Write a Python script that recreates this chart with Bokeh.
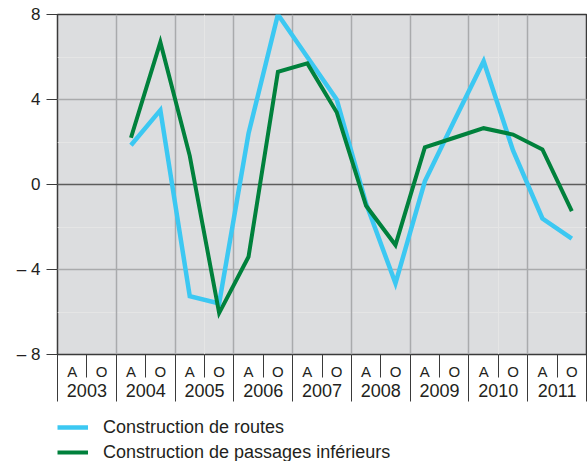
from bokeh.plotting import figure
from bokeh.layouts import column
from bokeh.models import (Range1d, LinearAxis, FixedTicker, Grid, Legend, LegendItem,
                          ColumnDataSource)
from bokeh.embed import file_html
from bokeh.resources import INLINE

# ---- data ----
years = [2003, 2004, 2005, 2006, 2007, 2008, 2009, 2010, 2011]
halves = ["A", "O"]
# series start at 2004 A and end at 2011 O
start_year = 2004
routes = [1.85, 3.5, -5.25, -5.6, 2.4, 8.0, 6.0, 4.0, -0.9, -4.65,
          0.15, 3.0, 5.8, 1.6, -1.6, -2.55]
passages = [2.2, 6.7, 1.35, -6.05, -3.4, 5.3, 5.7, 3.4, -1.0, -2.85,
            1.75, 2.2, 2.65, 2.35, 1.65, -1.25]
y_ticks = [-8, -4, 0, 4, 8]
y_labels = {-8: "\u2013 8", -4: "\u2013 4", 0: "0", 4: "4", 8: "8"}
series_names = ["Construction de routes", "Construction de passages inférieurs"]

# ---- derived positions (slot index per half-year) ----
n_slots = len(years) * len(halves)
offset = (start_year - years[0]) * len(halves)
x_vals = [offset + i + 0.5 for i in range(len(routes))]

FONT = "Liberation Sans"
TXT = "#231f20"
BLUE = "#3cc8f2"
GREEN = "#00813c"
W = 587

p = figure(width=W, height=405, x_range=Range1d(0, n_slots), y_range=Range1d(-8, 8),
           output_backend="svg", toolbar_location=None,
           x_axis_location=None, y_axis_location=None,
           min_border_left=57, min_border_right=1, min_border_top=14, min_border_bottom=51)
p.background_fill_color = "#dcdddf"
p.border_fill_color = "white"
p.outline_line_color = "#3a3a3a"
p.outline_line_width = 1.5

# grids
vgrid = Grid(dimension=0, ticker=FixedTicker(ticks=list(range(2, n_slots, 2))),
             grid_line_color="#a9aaac", grid_line_width=1.5)
hgrid = Grid(dimension=1, ticker=FixedTicker(ticks=[t for t in y_ticks if t != 0]),
             grid_line_color="#a9aaac", grid_line_width=1.5)
zgrid = Grid(dimension=1, ticker=FixedTicker(ticks=[0]),
             grid_line_color="#5c5c5c", grid_line_width=1.5)
p.add_layout(vgrid)
p.add_layout(hgrid)
p.add_layout(zgrid)

# y axis
yax = LinearAxis(ticker=FixedTicker(ticks=y_ticks), major_label_overrides=y_labels,
                 axis_line_color=None, major_tick_out=11, major_tick_in=0,
                 major_tick_line_color="#3a3a3a", major_tick_line_width=1,
                 minor_tick_line_color=None, major_label_standoff=6,
                 major_label_text_font=FONT, major_label_text_font_size="17px",
                 major_label_text_color=TXT)
p.add_layout(yax, "left")

# x axis 1: A / O labels, separators between half-years
centers = [i + 0.5 for i in range(n_slots)]
half_labels = {c: halves[i % 2] for i, c in enumerate(centers)}
xax1 = LinearAxis(ticker=FixedTicker(ticks=centers, minor_ticks=list(range(0, n_slots + 1))),
                  major_label_overrides=half_labels, axis_line_color=None,
                  major_tick_out=0, major_tick_in=0,
                  minor_tick_out=23, minor_tick_in=0,
                  minor_tick_line_color="#3a3a3a", minor_tick_line_width=1,
                  major_label_standoff=-15,
                  major_label_text_font=FONT, major_label_text_font_size="15px",
                  major_label_text_color=TXT)
p.add_layout(xax1, "below")

# x axis 2: years, separators between years
ycenters = [2 * i + 1 for i in range(len(years))]
year_labels = {c: str(y) for c, y in zip(ycenters, years)}
xax2 = LinearAxis(ticker=FixedTicker(ticks=ycenters, minor_ticks=list(range(0, n_slots + 1, 2))),
                  major_label_overrides=year_labels, axis_line_color=None,
                  major_tick_out=0, major_tick_in=0,
                  minor_tick_out=19, minor_tick_in=26,
                  minor_tick_line_color="#3a3a3a", minor_tick_line_width=1,
                  major_label_standoff=-18,
                  major_label_text_font=FONT, major_label_text_font_size="18px",
                  major_label_text_color=TXT)
p.add_layout(xax2, "below")

src = ColumnDataSource(dict(x=x_vals, routes=routes, passages=passages))
p.line("x", "routes", source=src, line_color=BLUE, line_width=4.5, line_join="miter")
p.line("x", "passages", source=src, line_color=GREEN, line_width=4, line_join="miter")

# ---- legend panel (single-point lines draw nothing but give legend swatches) ----
pl = figure(width=W, height=56, x_range=Range1d(0, n_slots), y_range=Range1d(-8, 8),
            output_backend="svg", toolbar_location=None,
            x_axis_location=None, y_axis_location=None,
            min_border_left=57, min_border_right=0, min_border_top=11, min_border_bottom=0)
pl.outline_line_color = None
pl.background_fill_color = "white"
pl.grid.visible = False
key = ColumnDataSource(dict(x=x_vals[:1], routes=routes[:1], passages=passages[:1]))
l1 = pl.line("x", "routes", source=key, line_color=BLUE, line_width=4.5)
l2 = pl.line("x", "passages", source=key, line_color=GREEN, line_width=4)
legend = Legend(items=[LegendItem(label=series_names[0], renderers=[l1]),
                       LegendItem(label=series_names[1], renderers=[l2])],
                location="top_left", orientation="vertical",
                label_text_font=FONT, label_text_font_size="18px", label_text_color=TXT,
                glyph_width=31, glyph_height=22, label_height=22, label_standoff=15,
                spacing=3, padding=0, margin=0,
                border_line_color=None, background_fill_alpha=0)
pl.add_layout(legend)

layout = column(p, pl, spacing=0)
open("out.html", "w").write(file_html(layout, INLINE))
